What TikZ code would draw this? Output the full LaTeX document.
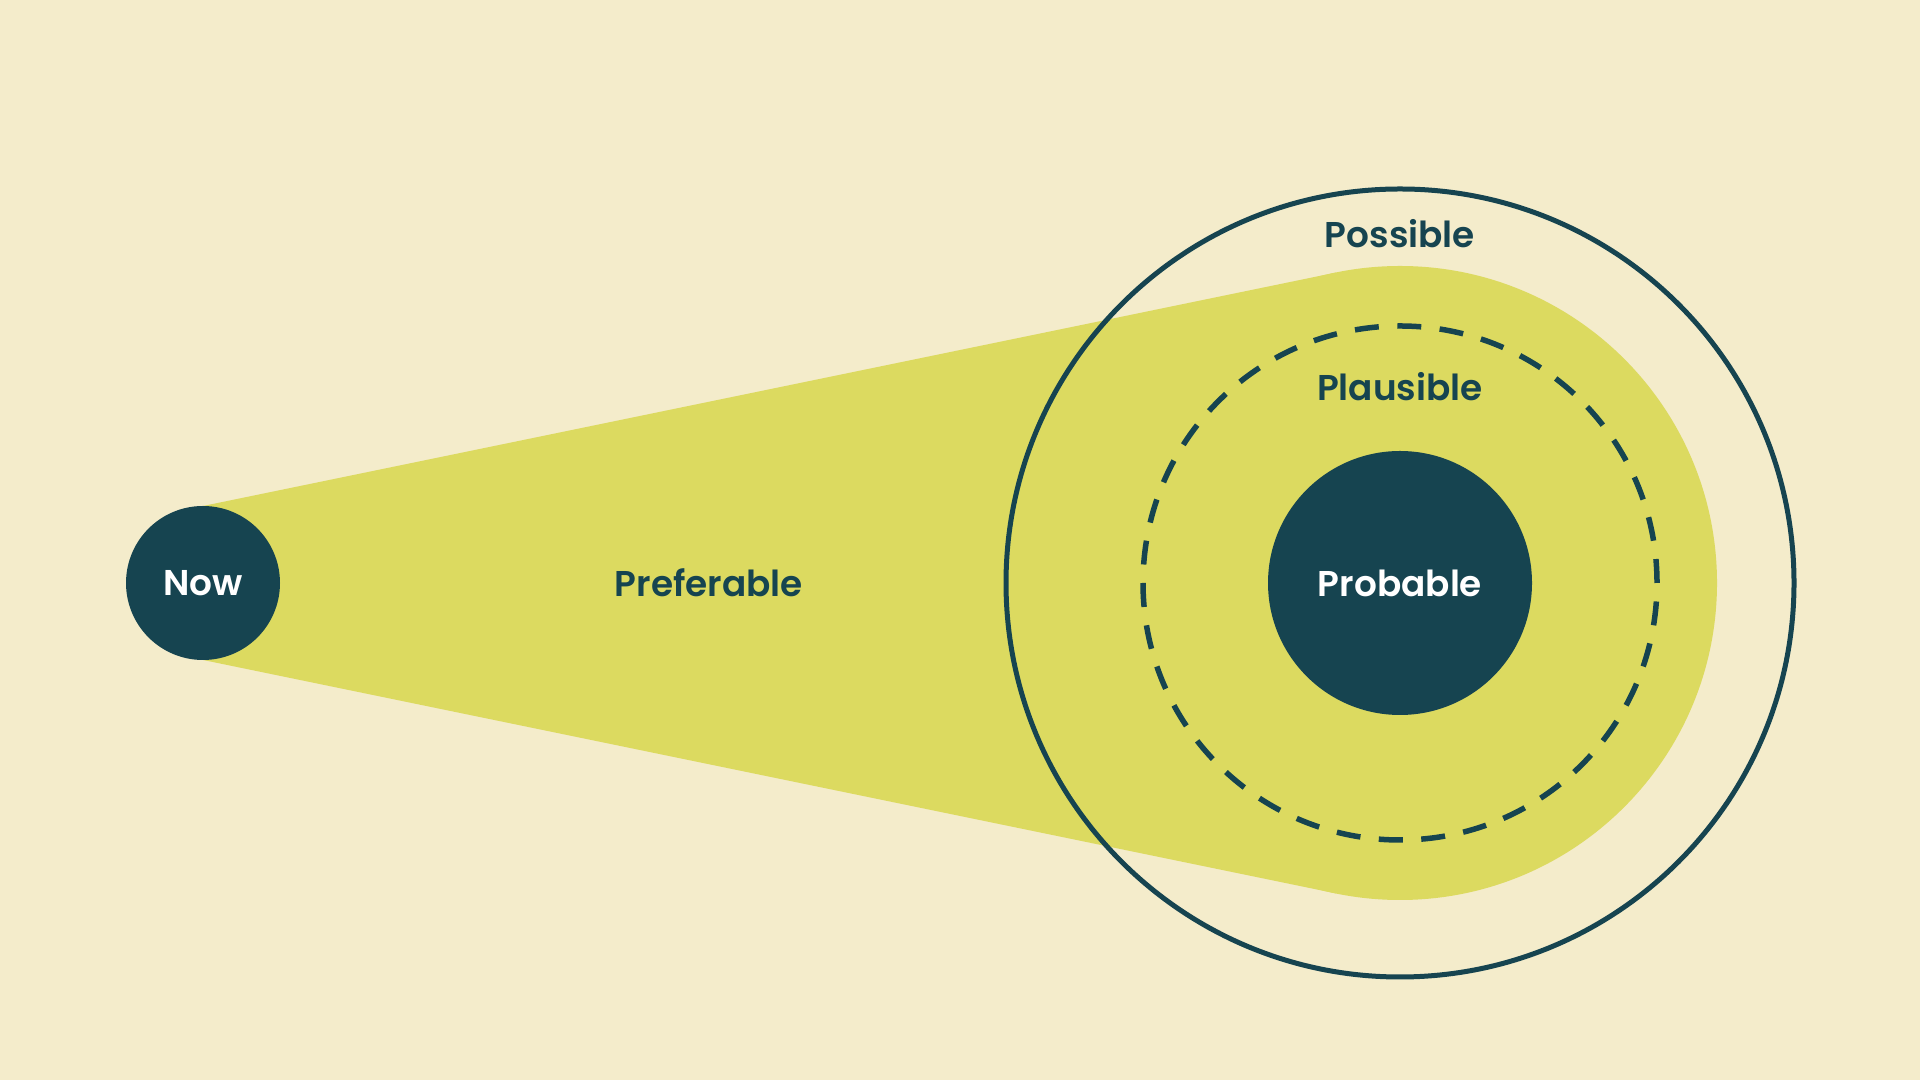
\documentclass[tikz,border=0pt]{standalone}
\usepackage{fontspec}
\setmainfont{Poppins}[BoldFont={Poppins SemiBold}]
\usetikzlibrary{calc}
\definecolor{cream}{RGB}{244,236,203}
\definecolor{lime}{RGB}{220,218,96}
\definecolor{teal}{RGB}{22,68,80}
\tikzset{
  ring/.style={circle,inner sep=0pt,outer sep=0pt,minimum size=#1},
  label text/.style={font=\fontsize{10.2}{12}\selectfont\bfseries,text=teal},
}
\begin{document}
\begin{tikzpicture}
\fill[cream] (0,0) rectangle (19.2,10.8);
\useasboundingbox (0,0) rectangle (19.2,10.8);
\coordinate (c) at (14,4.97);
% preferable cone
\node[ring=6.34cm,fill=lime] (pref) at (c) {};
\node[ring=1.54cm] (now) at (2.03,4.97) {};
\coordinate (t1) at (tangent cs:node=pref,point={(now.north)},solution=2);
\coordinate (t2) at (tangent cs:node=pref,point={(now.south)},solution=1);
\fill[lime] (now.north) -- (t1) -- (c) -- (t2) -- (now.south) -- cycle;
% possible and plausible
\node[ring=7.88cm,draw=teal,line width=0.05cm] (poss) at (c) {};
\node[ring=5.14cm,draw=teal,line width=0.055cm,dash pattern=on 0.24cm off 0.185cm] (plaus) at (c) {};
% probable and now
\node[ring=2.64cm,fill=teal,label text,text=white] (prob) at (c) {Probable};
\node[ring=1.54cm,fill=teal,label text,text=white] at (now) {Now};
\node[label text] at (7.09,4.97) {Preferable};
\node[label text] at (14,8.46) {Possible};
\node[label text] at (14,6.93) {Plausible};
\end{tikzpicture}
\end{document}
